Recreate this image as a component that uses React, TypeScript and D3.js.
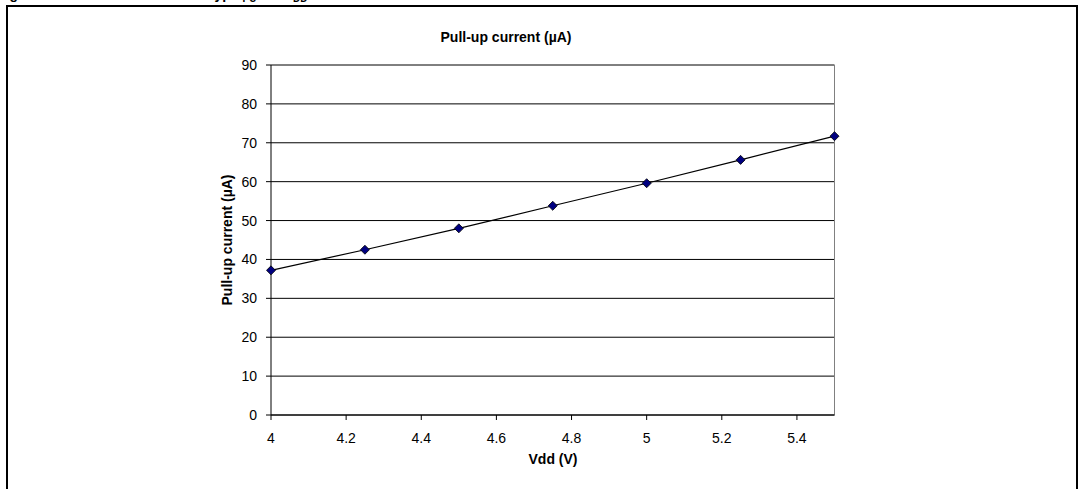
import React from "react";
import * as d3 from "d3";

const vdd = [4, 4.25, 4.5, 4.75, 5, 5.25, 5.5];
const pullUp = [37.2, 42.5, 48.0, 53.8, 59.6, 65.6, 71.7];
const xTicks = [4, 4.2, 4.4, 4.6, 4.8, 5, 5.2, 5.4];
const yTicks = [0, 10, 20, 30, 40, 50, 60, 70, 80, 90];

const W = 1080;
const H = 489;
const FONT = "'Liberation Sans', Arial, sans-serif";

export default function App() {
  const x = d3.scaleLinear().domain([4, 5.5]).range([271, 834.5]);
  const y = d3.scaleLinear().domain([0, 90]).range([415, 65]);
  const line = d3
    .line<number>()
    .x((_, i) => x(vdd[i]))
    .y((d) => y(d));
  const diamond = d3.symbol().type(d3.symbolDiamond2).size(52)();

  return (
    <svg
      width={W}
      height={H}
      style={{ position: "absolute", left: 0, top: 0, background: "#fff" }}
      fontFamily={FONT}
    >
      <rect x={0} y={0} width={W} height={H} fill="#fff" />
      {/* figure caption, clipped by the top edge as in the reference */}
      <text x={-3} y={-1} fontSize={14} fontWeight="bold" fill="#000">
        Figure 26.
      </text>
      <text x={207} y={-1} fontSize={14} fontWeight="bold" fill="#000">
        Typ. I
        <tspan fontSize={10} dy={3}>PU</tspan>
        <tspan dy={-3}> vs. V</tspan>
        <tspan fontSize={10} dy={3}>DD</tspan>
      </text>
      {/* outer frame */}
      <rect x={7} y={6} width={1070} height={520} fill="none" stroke="#000" strokeWidth={2} />

      {/* chart title */}
      <text x={506} y={42} textAnchor="middle" fontSize={14} fontWeight="bold">
        Pull-up current (µA)
      </text>

      {/* gridlines */}
      {yTicks.map((t) => (
        <line key={"g" + t} x1={x(4)} x2={x(5.5)} y1={y(t)} y2={y(t)} stroke="#000" strokeWidth={1} />
      ))}
      {/* plot right border */}
      <line x1={x(5.5)} x2={x(5.5)} y1={y(90)} y2={y(0)} stroke="#808080" strokeWidth={1} />
      {/* axes */}
      <line x1={x(4)} x2={x(4)} y1={y(90)} y2={y(0)} stroke="#000" strokeWidth={1} />
      <line x1={x(4)} x2={x(5.5)} y1={y(0)} y2={y(0)} stroke="#000" strokeWidth={1} />

      {/* y ticks */}
      {yTicks.map((t) => (
        <g key={"yt" + t}>
          <line x1={x(4) - 5} x2={x(4)} y1={y(t)} y2={y(t)} stroke="#000" />
          <text x={257} y={y(t) + 5} textAnchor="end" fontSize={14}>
            {t}
          </text>
        </g>
      ))}
      {/* x ticks */}
      {xTicks.map((t) => (
        <g key={"xt" + t}>
          <line x1={x(t)} x2={x(t)} y1={y(0)} y2={y(0) + 5} stroke="#000" />
          <text x={x(t)} y={443} textAnchor="middle" fontSize={14}>
            {String(t)}
          </text>
        </g>
      ))}

      {/* axis titles */}
      <text x={553} y={464} textAnchor="middle" fontSize={14} fontWeight="bold">
        Vdd (V)
      </text>
      <text
        transform={`translate(232, ${y(45)}) rotate(-90)`}
        textAnchor="middle"
        fontSize={14}
        fontWeight="bold"
      >
        Pull-up current (µA)
      </text>

      {/* series */}
      <path d={line(pullUp) || ""} fill="none" stroke="#000" strokeWidth={1.2} />
      {pullUp.map((v, i) => (
        <path
          key={"m" + i}
          d={diamond || ""}
          transform={`translate(${x(vdd[i])}, ${y(v)})`}
          fill="#000080"
          stroke="#000"
          strokeWidth={0.8}
        />
      ))}
    </svg>
  );
}
